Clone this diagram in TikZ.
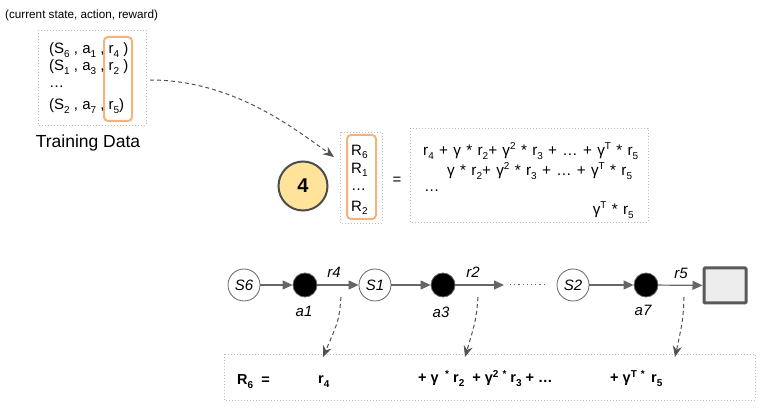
\documentclass[tikz,border=0pt]{standalone}
\usepackage{fontspec}
\setmainfont{Liberation Sans}
\usetikzlibrary{arrows.meta,positioning}
\newcommand{\mysub}[1]{\raisebox{-0.45ex}[0pt][0pt]{\fontsize{10}{10}\selectfont #1}}
\newcommand{\mysup}[1]{\raisebox{0.75ex}[0pt][0pt]{\fontsize{10}{10}\selectfont #1}}
\newcommand{\eqfont}{\fontsize{15.3}{17}\selectfont}
\newcommand{\wsp}{\hspace{5.3pt}}
\definecolor{dotgray}{HTML}{BBBBBB}
\definecolor{lineg}{HTML}{666666}
\definecolor{orng}{HTML}{F5B27A}
\definecolor{yel}{HTML}{FFE39A}
\tikzset{
  dotbox/.style={draw=dotgray,line width=0.8pt,dash pattern=on 1pt off 2pt},
  orbox/.style={draw=orng,line width=2pt,rounded corners=4pt},
  txt/.style={font=\fontsize{15}{17}\selectfont,inner sep=0pt,anchor=west},
  eqtxt/.style={font=\eqfont,inner sep=0pt,anchor=west},
  statenode/.style={circle,draw=lineg,line width=0.8pt,fill=white,minimum size=32pt,inner sep=0pt,font=\fontsize{15}{17}\selectfont\itshape},
  actnode/.style={circle,draw=lineg,line width=0.8pt,fill=black,minimum size=24pt,inner sep=0pt},
  lbl/.style={font=\fontsize{15}{17}\selectfont\itshape,inner sep=0pt},
  flow/.style={draw=lineg,line width=1.2pt,-{Triangle[length=10pt,width=9pt]}},
  dflow/.style={draw=lineg!80!black,line width=1pt,dash pattern=on 4pt off 3pt,-{Stealth[length=11pt,width=9pt]}},
  btxt/.style={font=\fontsize{14.5}{16}\selectfont\bfseries,inner sep=0pt,anchor=west}
}
\begin{document}
\begin{tikzpicture}[x=1pt,y=-1pt]
\useasboundingbox (0,0) rectangle (773,411);
% top label
\node[anchor=west,inner sep=0pt,font=\fontsize{11.7}{13}\selectfont] (toplbl) at (5,15) {(current state, action, reward)};
% training data box
\draw[dotbox] (38,30) rectangle (146,125);
\node[draw=none,minimum width=108pt,minimum height=95pt,inner sep=0pt] (tbox) at (92,77.5) {};
\draw[orbox] (104,37) rectangle (132,121);
\node[txt] (t1) at (49,50) {(S\mysub{6} , a\mysub{1} , r\mysub{4} )};
\node[txt] (t2) at (49,67) {(S\mysub{1} , a\mysub{3} , r\mysub{2} )};
\node[txt] (t3) at (49,87) {\ldots};
\node[txt] (t4) at (49,106) {(S\mysub{2} , a\mysub{7} , r\mysub{5})};
\node[inner sep=0pt,font=\fontsize{17.5}{19}\selectfont] (tdl) at (88,143) {Training Data};
% R box
\draw[dotbox] (340,132) rectangle (382,223);
\node[draw=none,minimum width=42pt,minimum height=91pt,inner sep=0pt] (rbox) at (361,177.5) {};
\draw[orbox] (347,135) rectangle (376,219);
\node[txt] (r1) at (351,150) {R\mysub{6}};
\node[txt] (r2) at (351,168) {R\mysub{1}};
\node[txt] (r3) at (351,190) {\ldots};
\node[txt] (r4) at (351,206) {R\mysub{2}};
\coordinate (arrEnd) at (334,157);
\coordinate (arrStart) at (150,80);
\draw[dflow] (arrStart) .. controls (230,80) and (290,125) .. (arrEnd);
% circle 4
\node[circle,draw=black!70,line width=2pt,fill=yel,minimum size=49pt,inner sep=0pt,font=\fontsize{20}{22}\selectfont\bfseries] (four) at (303,186) {4};
% equals
\node[inner sep=0pt,font=\fontsize{15}{17}\selectfont] (eq) at (397,181) {=};
% right box
\draw[dotbox] (410,128) rectangle (648,222);
\node[eqtxt] (e1) at (423,152) {r\mysub{4}\wsp+\wsp γ\wsp*\wsp r\mysub{2}+\wsp γ\mysup{2}\wsp*\wsp r\mysub{3}\wsp+\wsp\ldots\wsp+\wsp γ\mysup{T}\wsp*\wsp r\mysub{5}};
\node[eqtxt] (e2) at (447,172) {γ\wsp*\wsp r\mysub{2}+\wsp γ\mysup{2}\wsp*\wsp r\mysub{3}\wsp+\wsp\ldots\wsp+\wsp γ\mysup{T}\wsp*\wsp r\mysub{5}};
\node[eqtxt] (e3) at (424,191) {\ldots};
\node[eqtxt,anchor=east] (e4) at (634,211) {γ\mysup{T}\wsp*\wsp r\mysub{5}};
% chain
\node[statenode] (s6) at (244,285) {S6};
\node[actnode] (a1) at (305,285) {};
\node[statenode] (s1) at (375,285) {S1};
\node[actnode] (a3) at (443,285) {};
\coordinate (r2end) at (504,285);
\coordinate (dotA) at (510,285);
\coordinate (dotB) at (546,285);
\node[statenode] (s2) at (573,285) {S2};
\node[actnode] (a7) at (646,285) {};
\node[draw=black!65,line width=3pt,fill=black!7,minimum width=42pt,minimum height=35pt,inner sep=0pt,rounded corners=1pt] (term) at (725,285.5) {};
\draw[flow] (s6) -- (a1);
\draw[flow] (a1) -- (s1);
\draw[flow] (s1) -- (a3);
\draw[flow] (a3) -- (r2end);
\draw[draw=lineg,line width=1pt,dash pattern=on 1.2pt off 3pt] (dotA) -- (dotB);
\draw[flow] (s2) -- (a7);
\draw[flow] (a7) -- (term);
\node[lbl] (la1) at (304,311) {a1};
\node[lbl] (la3) at (441,312) {a3};
\node[lbl] (la7) at (643,310) {a7};
\node[lbl] (lr4) at (334,272) {r4};
\node[lbl] (lr2) at (473,272) {r2};
\node[lbl] (lr5) at (681,273) {r5};
% bottom box
\draw[dotbox] (224,354) rectangle (755,400);
\coordinate (d1s) at (341,297);
\coordinate (d1e) at (323,357);
\coordinate (d2s) at (478,297);
\coordinate (d2e) at (465,357);
\coordinate (d3s) at (684,297);
\coordinate (d3e) at (675,357);
\draw[dflow] (d1s) .. controls (339,320) .. (d1e);
\draw[dflow] (d2s) .. controls (476,320) .. (d2e);
\draw[dflow] (d3s) .. controls (683,320) .. (d3e);
\node[btxt] (b1) at (237,380) {R\mysub{6}\ \ =};
\node[btxt] (b2) at (318,380) {r\mysub{4}};
\node[btxt] (b3) at (418,380) {+ γ \,\mysup{*} r\mysub{2} \ + γ\mysup{2} \mysup{*} r\mysub{3} + \ldots};
\node[btxt] (b4) at (610,380) {+ γ\mysup{T} \mysup{*} \,r\mysub{5}};
\end{tikzpicture}
\end{document}
